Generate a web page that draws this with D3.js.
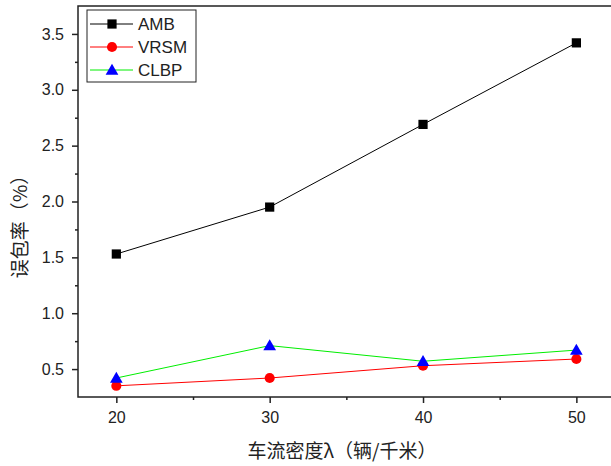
<!DOCTYPE html>
<html><head><meta charset="utf-8">
<script src="https://cdn.jsdelivr.net/npm/d3@7"></script>
<style>body{margin:0;background:#fff}svg{display:block}</style>
</head><body>
<script>
const xValues = [20, 30, 40, 50];
const ambValues = [1.53, 1.95, 2.69, 3.42];
const vrsmValues = [0.35, 0.42, 0.53, 0.59];
const clbpValues = [0.42, 0.71, 0.57, 0.67];
const seriesNames = ["AMB", "VRSM", "CLBP"];
const xTicks = [20, 30, 40, 50];
const yTicks = [0.5, 1.0, 1.5, 2.0, 2.5, 3.0, 3.5];
const xLabel = "车流密度λ（辆/千米）";
const yLabel = "误包率（%）";

const W = 611, H = 466;
const L = 78, R = 614.7, T = 6, B = 397;
const svg = d3.select("body").append("svg").attr("width", W).attr("height", H);
const x = d3.scaleLinear().domain([17.5, 52.5]).range([L, R]);
const y = d3.scaleLinear().domain([0.25, 3.75]).range([B, T]);
const font = "'Liberation Sans', Arial, sans-serif";
const cjk = "'Noto Sans CJK SC', sans-serif";

// frame
svg.append("rect").attr("x", L).attr("y", T).attr("width", R - L).attr("height", B - T)
  .attr("fill", "none").attr("stroke", "#222").attr("stroke-width", 1.5);

// x axis ticks
const gx = svg.append("g").attr("transform", `translate(0,${B})`)
  .call(d3.axisBottom(x).tickValues(xTicks).tickFormat(d3.format("d")).tickSize(6).tickPadding(9));
gx.select(".domain").remove();
gx.selectAll("line").attr("stroke", "#222").attr("stroke-width", 1.5);
gx.selectAll("text").attr("font-family", font).attr("font-size", 16).attr("fill", "#222");
svg.append("g").attr("transform", `translate(0,${B})`)
  .call(d3.axisBottom(x).tickValues([25, 35, 45]).tickFormat("").tickSize(3))
  .call(g => { g.select(".domain").remove(); g.selectAll("line").attr("stroke", "#222").attr("stroke-width", 1.5); });

// y axis ticks
const gy = svg.append("g").attr("transform", `translate(${L},0)`)
  .call(d3.axisLeft(y).tickValues(yTicks).tickFormat(d3.format(".1f")).tickSize(6).tickPadding(8));
gy.select(".domain").remove();
gy.selectAll("line").attr("stroke", "#222").attr("stroke-width", 1.5);
gy.selectAll("text").attr("font-family", font).attr("font-size", 16).attr("fill", "#222");
svg.append("g").attr("transform", `translate(${L},0)`)
  .call(d3.axisLeft(y).tickValues([0.75, 1.25, 1.75, 2.25, 2.75, 3.25]).tickFormat("").tickSize(3))
  .call(g => { g.select(".domain").remove(); g.selectAll("line").attr("stroke", "#222").attr("stroke-width", 1.5); });

// labels
svg.append("text").attr("x", 342).attr("y", 458).attr("text-anchor", "middle")
  .attr("font-family", cjk).attr("font-size", 19).attr("fill", "#222").text(xLabel);
svg.append("text").attr("transform", `translate(27,222) rotate(-90)`).attr("text-anchor", "middle")
  .attr("font-family", cjk).attr("font-size", 19).attr("fill", "#222").text(yLabel);

const series = [
  { name: seriesNames[0], vals: ambValues, color: "#000", fill: "#000", shape: d3.symbolSquare },
  { name: seriesNames[1], vals: vrsmValues, color: "#ff0000", fill: "#ff0000", shape: d3.symbolCircle },
  { name: seriesNames[2], vals: clbpValues, color: "#00ee00", fill: "#0000ff", shape: d3.symbolTriangle }
];
const line = d3.line().x((d, i) => x(xValues[i])).y(d => y(d));
function sym(s) {
  if (s === d3.symbolSquare) return d3.symbol().type(s).size(85)();
  if (s === d3.symbolCircle) return d3.symbol().type(s).size(80)();
  return d3.symbol().type(s).size(70)();
}
series.forEach(s => {
  svg.append("path").datum(s.vals).attr("d", line).attr("fill", "none").attr("stroke", s.color).attr("stroke-width", 1);
});
series.forEach(s => {
  svg.selectAll(null).data(s.vals).enter().append("path")
    .attr("transform", (d, i) => `translate(${x(xValues[i])},${y(d) + (s.shape === d3.symbolTriangle ? 1 : 0)})`)
    .attr("d", sym(s.shape)).attr("fill", s.fill);
});

// legend
const lg = svg.append("g");
lg.append("rect").attr("x", 87).attr("y", 10).attr("width", 109).attr("height", 72)
  .attr("fill", "#fff").attr("stroke", "#222").attr("stroke-width", 1);
series.forEach((s, i) => {
  const yy = 24 + i * 23;
  lg.append("line").attr("x1", 90).attr("x2", 133).attr("y1", yy).attr("y2", yy).attr("stroke", s.color).attr("stroke-width", 1);
  lg.append("path").attr("transform", `translate(112,${yy + (s.shape === d3.symbolTriangle ? 1 : 0)})`).attr("d", sym(s.shape)).attr("fill", s.fill);
  lg.append("text").attr("x", 138).attr("y", yy + 6).attr("font-family", font).attr("font-size", 17).attr("fill", "#222").text(s.name);
});
</script>
</body></html>
